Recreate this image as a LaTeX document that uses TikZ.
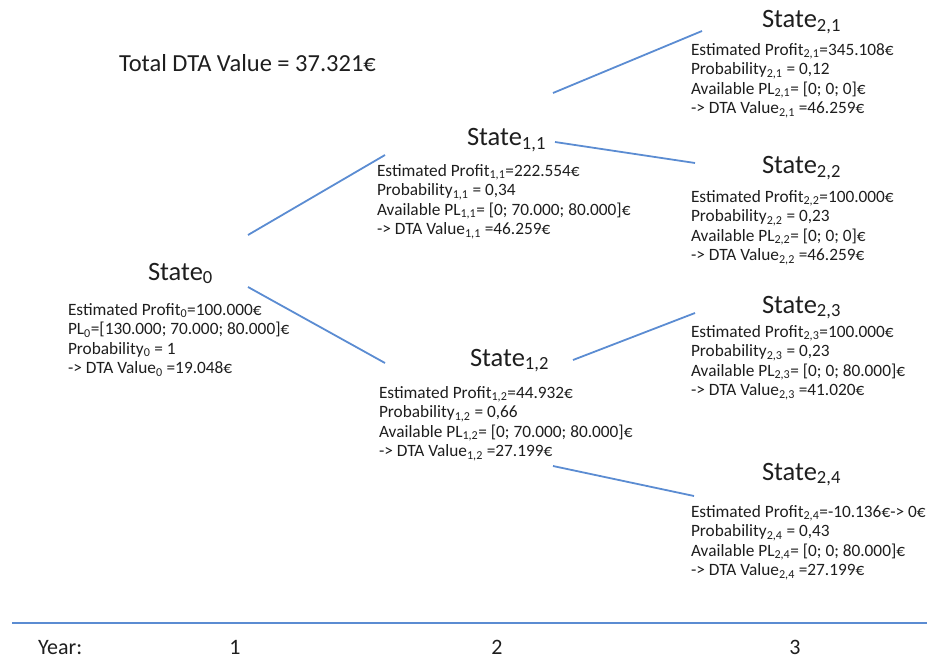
\documentclass[tikz,border=0pt]{standalone}
\usepackage{fontspec}
\setmainfont{Carlito}
\definecolor{linkblue}{HTML}{5B8CD2}
\definecolor{txt}{HTML}{1E1E1E}
\begin{document}
\begin{tikzpicture}[x=1pt,y=-1pt,
  every node/.style={inner sep=0pt, outer sep=0pt, text=txt},
  title/.style={anchor=base west, font=\fontsize{26.5}{30}\selectfont},
  body/.style={anchor=north west, align=left, font=\fontsize{17.3}{19.5}\selectfont},
  yearlab/.style={anchor=base, font=\fontsize{22}{24}\selectfont},
  link/.style={draw=linkblue, line width=1.8pt}]
\useasboundingbox (0,0) rectangle (927,658);

\node[anchor=base west, font=\fontsize{24.5}{28}\selectfont] (total) at (119,72) {Total DTA Value = 37.321€};

% State 0
\node[title] (t0) at (148,280) {State\textsubscript{0}};
\node[body] (b0) at (68,303) {Estimated Profit\textsubscript{0}=100.000€\\
PL\textsubscript{0}=[130.000; 70.000; 80.000]€\\
Probability\textsubscript{0} = 1\\
-> DTA Value\textsubscript{0} =19.048€};

% State 1,1
\node[title] (t11) at (467,146) {State\textsubscript{1,1}};
\node[body] (b11) at (377,164) {Estimated Profit\textsubscript{1,1}=222.554€\\
Probability\textsubscript{1,1} = 0,34\\
Available PL\textsubscript{1,1}= [0; 70.000; 80.000]€\\
-> DTA Value\textsubscript{1,1} =46.259€};

% State 1,2
\node[title] (t12) at (470,366) {State\textsubscript{1,2}};
\node[body] (b12) at (379,386) {Estimated Profit\textsubscript{1,2}=44.932€\\
Probability\textsubscript{1,2} = 0,66\\
Available PL\textsubscript{1,2}= [0; 70.000; 80.000]€\\
-> DTA Value\textsubscript{1,2} =27.199€};

% State 2,1
\node[title] (t21) at (762,28) {State\textsubscript{2,1}};
\node[body] (b21) at (691,43) {Estimated Profit\textsubscript{2,1}=345.108€\\
Probability\textsubscript{2,1} = 0,12\\
Available PL\textsubscript{2,1}= [0; 0; 0]€\\
-> DTA Value\textsubscript{2,1} =46.259€};

% State 2,2
\node[title] (t22) at (762,174) {State\textsubscript{2,2}};
\node[body] (b22) at (691,190) {Estimated Profit\textsubscript{2,2}=100.000€\\
Probability\textsubscript{2,2} = 0,23\\
Available PL\textsubscript{2,2}= [0; 0; 0]€\\
-> DTA Value\textsubscript{2,2} =46.259€};

% State 2,3
\node[title] (t23) at (762,313) {State\textsubscript{2,3}};
\node[body] (b23) at (691,325) {Estimated Profit\textsubscript{2,3}=100.000€\\
Probability\textsubscript{2,3} = 0,23\\
Available PL\textsubscript{2,3}= [0; 0; 80.000]€\\
-> DTA Value\textsubscript{2,3} =41.020€};

% State 2,4
\node[title] (t24) at (762,480) {State\textsubscript{2,4}};
\node[body] (b24) at (691,505) {Estimated Profit\textsubscript{2,4}=-10.136€-> 0€\\
Probability\textsubscript{2,4} = 0,43\\
Available PL\textsubscript{2,4}= [0; 0; 80.000]€\\
-> DTA Value\textsubscript{2,4} =27.199€};

% connector end points
\coordinate (c0a) at (248,235);
\coordinate (c11a) at (385,155);
\coordinate (c0b) at (248,287);
\coordinate (c12a) at (385,363);
\coordinate (c11b) at (553,93);
\coordinate (c21) at (702,31);
\coordinate (c11c) at (555,142);
\coordinate (c22) at (695,163);
\coordinate (c12b) at (573,360);
\coordinate (c23) at (695,313);
\coordinate (c12c) at (553,466);
\coordinate (c24) at (694,496);

\draw[link] (c0a) -- (c11a);
\draw[link] (c0b) -- (c12a);
\draw[link] (c11b) -- (c21);
\draw[link] (c11c) -- (c22);
\draw[link] (c12b) -- (c23);
\draw[link] (c12c) -- (c24);

% year axis
\coordinate (axL) at (12,623);
\coordinate (axR) at (927,623);
\draw[link] (axL) -- (axR);
\node[anchor=base west, font=\fontsize{22}{24}\selectfont] (year) at (38,654) {Year:};
\node[yearlab] (y1) at (235,654) {1};
\node[yearlab] (y2) at (497,654) {2};
\node[yearlab] (y3) at (795,654) {3};
\end{tikzpicture}
\end{document}
